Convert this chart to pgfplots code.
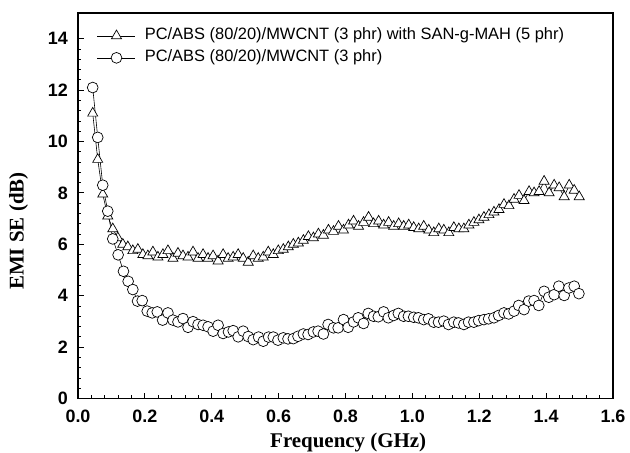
\documentclass[border=0pt]{standalone}
\usepackage{pgfplots}
\pgfplotsset{compat=1.18}
\usepackage{fontspec}
\setmainfont{Liberation Serif}
\newfontfamily\arialfont{Liberation Sans}

\pgfplotstableread{
x y
0.044 11.1
0.059 9.3
0.074 7.95
0.089 7.1
0.104 6.6
0.119 6.25
0.134 6.0
0.149 5.9
0.164 5.75
0.179 5.8
0.194 5.6
0.209 5.55
0.224 5.7
0.239 5.5
0.254 5.6
0.269 5.75
0.284 5.45
0.299 5.65
0.314 5.55
0.329 5.5
0.344 5.7
0.359 5.45
0.374 5.6
0.389 5.45
0.404 5.55
0.419 5.35
0.434 5.6
0.449 5.45
0.464 5.5
0.479 5.6
0.494 5.45
0.509 5.3
0.524 5.55
0.539 5.45
0.554 5.5
0.569 5.7
0.584 5.6
0.599 5.75
0.614 5.8
0.629 5.9
0.644 6.0
0.659 6.05
0.674 6.15
0.689 6.3
0.704 6.25
0.719 6.4
0.734 6.35
0.749 6.55
0.764 6.5
0.779 6.7
0.794 6.55
0.809 6.75
0.824 6.9
0.839 6.7
0.854 6.85
0.869 7.05
0.884 6.8
0.899 6.9
0.914 6.75
0.929 6.85
0.944 6.7
0.959 6.8
0.974 6.7
0.989 6.75
1.004 6.65
1.019 6.6
1.034 6.7
1.049 6.55
1.064 6.45
1.079 6.6
1.094 6.55
1.109 6.45
1.124 6.65
1.139 6.6
1.154 6.6
1.169 6.75
1.184 6.85
1.199 6.95
1.214 7.05
1.229 7.15
1.244 7.25
1.259 7.35
1.274 7.55
1.289 7.5
1.304 7.75
1.319 7.9
1.334 7.7
1.349 8.05
1.364 8.0
1.379 8.05
1.394 8.45
1.409 8.0
1.424 8.3
1.439 8.2
1.454 7.85
1.469 8.3
1.484 8.1
1.499 7.85
}\sanmah

\pgfplotstableread{
x y
0.044 12.1
0.059 10.16
0.074 8.3
0.089 7.29
0.104 6.21
0.120 5.59
0.136 4.95
0.150 4.56
0.164 4.24
0.178 3.79
0.192 3.81
0.207 3.40
0.222 3.33
0.237 3.37
0.253 3.05
0.269 3.33
0.284 3.05
0.299 2.98
0.314 3.11
0.329 2.77
0.344 2.99
0.359 2.88
0.374 2.85
0.389 2.79
0.404 2.62
0.419 2.85
0.434 2.53
0.450 2.59
0.464 2.64
0.479 2.40
0.494 2.62
0.509 2.41
0.524 2.29
0.540 2.39
0.554 2.23
0.570 2.39
0.584 2.39
0.598 2.27
0.614 2.36
0.628 2.32
0.644 2.33
0.658 2.42
0.674 2.51
0.688 2.49
0.704 2.59
0.718 2.62
0.734 2.51
0.748 2.88
0.764 2.75
0.778 2.75
0.794 3.07
0.808 2.77
0.824 2.98
0.838 3.14
0.854 2.92
0.868 3.31
0.884 3.20
0.898 3.18
0.914 3.37
0.928 3.14
0.944 3.23
0.958 3.31
0.974 3.20
0.988 3.20
1.004 3.16
1.018 3.14
1.034 3.07
1.048 3.10
1.064 2.97
1.078 2.97
1.094 3.01
1.108 2.88
1.124 2.97
1.138 2.94
1.154 2.88
1.168 2.97
1.184 2.97
1.198 3.03
1.214 3.07
1.228 3.10
1.244 3.14
1.258 3.23
1.274 3.33
1.288 3.29
1.304 3.40
1.318 3.62
1.334 3.46
1.348 3.79
1.364 3.81
1.378 3.62
1.394 4.17
1.408 3.94
1.424 4.04
1.438 4.37
1.454 4.01
1.468 4.30
1.484 4.37
1.498 4.08
}\plain

\begin{document}
\begin{tikzpicture}
\begin{axis}[
  scale only axis, width=535bp, height=385.5bp,
  xmin=0, xmax=1.6, ymin=0, ymax=15,
  xtick={0,0.2,0.4,0.6,0.8,1.0,1.2,1.4,1.6},
  ytick={0,2,4,6,8,10,12,14},
  minor x tick num=4, minor y tick num=4,
  xtick pos=lower, ytick pos=left,
  tick align=inside,
  major tick length=6bp, minor tick length=3.5bp,
  axis line style={line width=1.2pt},
  every tick/.style={black, line width=0.8pt},
  /pgf/number format/assume math mode=true,
  x tick label style={/pgf/number format/.cd, fixed, fixed zerofill, precision=1, /tikz/.cd},
  ticklabel style={font=\arialfont\bfseries\fontsize{18}{18}\selectfont},
  xticklabel style={anchor=north, inner sep=0pt, yshift=-11bp},
  yticklabel style={anchor=east, inner sep=0pt, xshift=-10bp},
  xlabel={Frequency (GHz)},
  ylabel={EMI SE (dB)},
  label style={font=\bfseries\fontsize{21}{21}\selectfont},
  xlabel style={at={(axis description cs:0.505,0)}, anchor=base, yshift=-49bp},
  ylabel style={at={(axis description cs:-0.111,0.4345)}, anchor=center, rotate=0},
  legend style={at={(axis description cs:0.0355,0.962)}, anchor=north west,
    draw=none, fill=none, inner sep=0pt, column sep=9bp, row sep=6bp,
    nodes={inner sep=0pt, text height=12bp, text depth=4bp},
    font=\arialfont\fontsize{16.5}{16.5}\selectfont},
  legend cell align=left,
  legend image code/.code={\draw[mark repeat=2, mark phase=2] plot coordinates {(0bp,0bp) (19bp,0bp) (38bp,0bp)};},
]
\addplot[black, line width=0.6pt, mark=triangle*, mark size=5.8bp,
  mark options={solid, fill=white, draw=black, line width=0.7pt}] table {\sanmah};
\addlegendentry{PC/ABS (80/20)/MWCNT (3 phr) with SAN-g-MAH (5 phr)}
\addplot[black, line width=0.6pt, mark=*, mark size=5.4bp,
  mark options={solid, fill=white, draw=black, line width=0.7pt}] table {\plain};
\addlegendentry{PC/ABS (80/20)/MWCNT (3 phr)}
\end{axis}
\pgfresetboundingbox
\path[use as bounding box] ([shift={(-78bp,-54.5bp)}]current axis.south west) rectangle ([shift={(17bp,13bp)}]current axis.north east);
\end{tikzpicture}
\end{document}
